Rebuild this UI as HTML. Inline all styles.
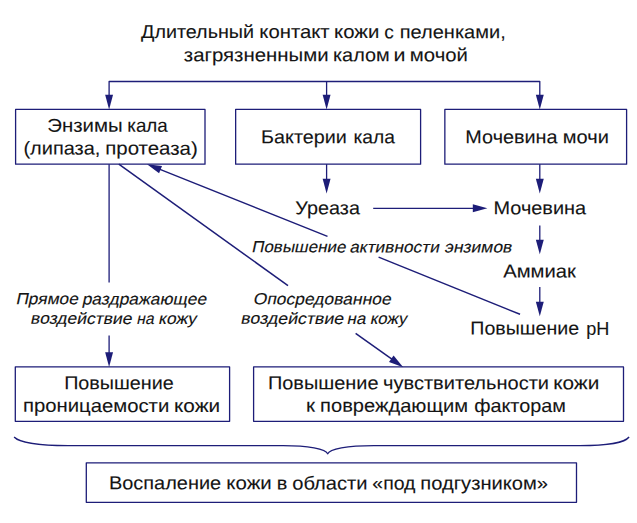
<!DOCTYPE html>
<html lang="ru"><head><meta charset="utf-8"><title>Схема</title>
<style>
html,body{margin:0;padding:0;background:#fff;}
body{width:637px;height:523px;overflow:hidden;}
svg{display:block;}
text{font-family:"Liberation Sans",sans-serif;fill:#141414;stroke:#141414;stroke-width:0.1px;}
.l{stroke:#1d1d78;stroke-width:1.3;fill:#1d1d78;stroke-linejoin:round;}
.d{stroke-width:1.5;}
text.i{stroke:#141414;stroke-width:0.12px;}
.l polygon{stroke:none;}
</style></head><body>
<svg width="637" height="523" viewBox="0 0 637 523">
<rect width="637" height="523" fill="#fff"/>
<g class="l">
<polyline points="109.1,100 109.1,81.5 539.8,81.5 539.8,100" fill="none"/>
<polygon points="109.10,109.40 105.15,94.80 113.05,94.80"/>
<line x1="326.60" y1="81.50" x2="326.60" y2="96.80"/><polygon points="326.60,109.40 322.65,94.80 330.55,94.80"/>
<polygon points="539.80,109.40 535.85,94.80 543.75,94.80"/>
<rect x="15.6" y="109.45" width="189.40" height="54.70" fill="none"/>
<rect x="235.65" y="109.45" width="184.95" height="54.70" fill="none"/>
<rect x="444.85" y="109.45" width="181.75" height="54.70" fill="none"/>
<rect x="15.3" y="366.9" width="214.30" height="54.45" fill="none"/>
<rect x="253.6" y="366.9" width="369.90" height="54.45" fill="none"/>
<rect x="86.3" y="462.8" width="490.20" height="39.50" fill="none"/>
<line x1="326.60" y1="164.15" x2="326.60" y2="180.80"/><polygon points="326.60,193.40 322.65,178.80 330.55,178.80"/>
<line x1="539.80" y1="164.15" x2="539.80" y2="180.80"/><polygon points="539.80,193.40 535.85,178.80 543.75,178.80"/>
<line x1="373.20" y1="208.30" x2="474.80" y2="208.30"/><polygon points="487.40,208.30 472.80,212.25 472.80,204.35"/>
<line x1="539.80" y1="225.50" x2="539.80" y2="241.70"/><polygon points="539.80,254.30 535.85,239.70 543.75,239.70"/>
<line x1="539.80" y1="287.00" x2="539.80" y2="303.70"/><polygon points="539.80,316.30 535.85,301.70 543.75,301.70"/>
<line x1="109.1" y1="164.15" x2="109.1" y2="282.5"/>
<line x1="109.10" y1="335.50" x2="109.10" y2="354.30"/><polygon points="109.10,366.90 105.15,352.30 113.05,352.30"/>
<g class="d">
<line x1="118.8" y1="164.15" x2="288.0" y2="285.65"/>
<line x1="327.50" y1="236.40" x2="158.70" y2="168.88"/><polygon points="147.00,164.20 162.02,165.95 159.09,173.29"/>
<line x1="520.0" y1="314.3" x2="378.6" y2="257.1"/>
<line x1="355.60" y1="333.40" x2="392.93" y2="359.91"/><polygon points="403.20,367.20 389.01,361.97 393.58,355.53"/>
</g>
<path d="M14.1,437 C19,442.5 40,445.6 68,445.6 L283,445.6 C308,445.6 326,449 327.7,453.9 C329.5,449 347,445.6 374,445.6 L580,445.6 C606,445.6 625,442.5 629.1,437" fill="none"/>
</g>

<g>
<text id="t1" transform="matrix(1 0.0005 0.0000 1 0 37.94)" font-size="18.7"><tspan id="t1_0" x="141.02" textLength="113.07" lengthAdjust="spacingAndGlyphs">Длительный</tspan> <tspan id="t1_1" x="259.38" textLength="70.28" lengthAdjust="spacingAndGlyphs">контакт</tspan> <tspan id="t1_2" x="334.08" textLength="45.18" lengthAdjust="spacingAndGlyphs">кожи</tspan> <tspan id="t1_3" x="384.35" textLength="9.56" lengthAdjust="spacingAndGlyphs">с</tspan> <tspan id="t1_4" x="399.68" textLength="106.07" lengthAdjust="spacingAndGlyphs">пеленками,</tspan></text>
<text id="t2" transform="matrix(1 0.0005 0.0000 1 0 61.04)" font-size="18.7"><tspan id="t2_0" x="183.79" textLength="144.82" lengthAdjust="spacingAndGlyphs">загрязненными</tspan> <tspan id="t2_1" x="332.97" textLength="56.75" lengthAdjust="spacingAndGlyphs">калом</tspan> <tspan id="t2_2" x="393.43" textLength="11.99" lengthAdjust="spacingAndGlyphs">и</tspan> <tspan id="t2_3" x="409.85" textLength="58.12" lengthAdjust="spacingAndGlyphs">мочой</tspan></text>
<text id="b1a" transform="matrix(1 0.0005 0.0000 1 0 131.75)" font-size="18.7"><tspan id="b1a_0" x="47.22" textLength="75.37" lengthAdjust="spacingAndGlyphs">Энзимы</tspan> <tspan id="b1a_1" x="127.25" textLength="40.51" lengthAdjust="spacingAndGlyphs">кала</tspan></text>
<text id="b1b" transform="matrix(1 0.0005 0.0000 1 0 154.54)" font-size="18.7"><tspan id="b1b_0" x="23.45" textLength="76.95" lengthAdjust="spacingAndGlyphs">(липаза,</tspan> <tspan id="b1b_1" x="105.24" textLength="92.56" lengthAdjust="spacingAndGlyphs">протеаза)</tspan></text>
<text id="b2" transform="matrix(1 0.0005 0.0000 1 0 143.14)" font-size="18.7"><tspan id="b2_0" x="261.14" textLength="85.76" lengthAdjust="spacingAndGlyphs">Бактерии</tspan> <tspan id="b2_1" x="353.40" textLength="41.51" lengthAdjust="spacingAndGlyphs">кала</tspan></text>
<text id="b3" transform="matrix(1 0.0005 0.0000 1 0 143.03)" font-size="18.7"><tspan id="b3_0" x="465.33" textLength="92.20" lengthAdjust="spacingAndGlyphs">Мочевина</tspan> <tspan id="b3_1" x="562.86" textLength="46.08" lengthAdjust="spacingAndGlyphs">мочи</tspan></text>
<text id="u" transform="matrix(1 0.0005 0.0000 1 0 214.04)" font-size="18.7"><tspan id="u_0" x="295.29" textLength="64.62" lengthAdjust="spacingAndGlyphs">Уреаза</tspan></text>
<text id="m" transform="matrix(1 0.0005 0.0000 1 0 213.93)" font-size="18.7"><tspan id="m_0" x="493.45" textLength="92.67" lengthAdjust="spacingAndGlyphs">Мочевина</tspan></text>
<text id="a" transform="matrix(1 0.0005 0.0000 1 0 277.13)" font-size="18.7"><tspan id="a_0" x="503.23" textLength="72.64" lengthAdjust="spacingAndGlyphs">Аммиак</tspan></text>
<text id="ph" transform="matrix(1 0.0005 0.0000 1 0 334.33)" font-size="18.7"><tspan id="ph_0" x="470.35" textLength="108.71" lengthAdjust="spacingAndGlyphs">Повышение</tspan> <tspan id="ph_1" x="586.14" textLength="23.10" lengthAdjust="spacingAndGlyphs">pH</tspan></text>
<text id="i1" class="i" transform="matrix(1 0.0005 -0.2126 1 0 252.21)" font-size="16.2"><tspan id="i1_0" x="251.21" textLength="94.32" lengthAdjust="spacingAndGlyphs">Повышение</tspan> <tspan id="i1_1" x="349.26" textLength="89.60" lengthAdjust="spacingAndGlyphs">активности</tspan> <tspan id="i1_2" x="444.00" textLength="67.42" lengthAdjust="spacingAndGlyphs">энзимов</tspan></text>
<text id="i2" class="i" transform="matrix(1 0.0005 -0.2126 1 0 304.34)" font-size="16.2"><tspan id="i2_0" x="15.41" textLength="62.44" lengthAdjust="spacingAndGlyphs">Прямое</tspan> <tspan id="i2_1" x="81.63" textLength="124.49" lengthAdjust="spacingAndGlyphs">раздражающее</tspan></text>
<text id="i3" class="i" transform="matrix(1 0.0005 -0.2126 1 0 323.84)" font-size="16.2"><tspan id="i3_0" x="30.12" textLength="101.44" lengthAdjust="spacingAndGlyphs">воздействие</tspan> <tspan id="i3_1" x="136.32" textLength="17.22" lengthAdjust="spacingAndGlyphs">на</tspan> <tspan id="i3_2" x="158.05" textLength="38.11" lengthAdjust="spacingAndGlyphs">кожу</tspan></text>
<text id="i4" class="i" transform="matrix(1 0.0005 -0.2126 1 0 304.24)" font-size="16.2"><tspan id="i4_0" x="252.81" textLength="137.96" lengthAdjust="spacingAndGlyphs">Опосредованное</tspan></text>
<text id="i5" class="i" transform="matrix(1 0.0005 -0.2126 1 0 323.74)" font-size="16.2"><tspan id="i5_0" x="240.35" textLength="102.82" lengthAdjust="spacingAndGlyphs">воздействие</tspan> <tspan id="i5_1" x="346.57" textLength="18.76" lengthAdjust="spacingAndGlyphs">на</tspan> <tspan id="i5_2" x="369.67" textLength="36.73" lengthAdjust="spacingAndGlyphs">кожу</tspan></text>
<text id="b4a" transform="matrix(1 0.0005 0.0000 1 0 389.24)" font-size="18.7"><tspan id="b4a_0" x="64.17" textLength="109.63" lengthAdjust="spacingAndGlyphs">Повышение</tspan></text>
<text id="b4b" transform="matrix(1 0.0005 0.0000 1 0 411.84)" font-size="18.7"><tspan id="b4b_0" x="22.96" textLength="146.28" lengthAdjust="spacingAndGlyphs">проницаемости</tspan> <tspan id="b4b_1" x="174.06" textLength="46.10" lengthAdjust="spacingAndGlyphs">кожи</tspan></text>
<text id="b5a" transform="matrix(1 0.0005 0.0000 1 0 389.08)" font-size="18.7"><tspan id="b5a_0" x="267.91" textLength="110.60" lengthAdjust="spacingAndGlyphs">Повышение</tspan> <tspan id="b5a_1" x="383.08" textLength="165.97" lengthAdjust="spacingAndGlyphs">чувствительности</tspan> <tspan id="b5a_2" x="553.19" textLength="46.14" lengthAdjust="spacingAndGlyphs">кожи</tspan></text>
<text id="b5b" transform="matrix(1 0.0005 0.0000 1 0 411.68)" font-size="18.7"><tspan id="b5b_0" x="305.94" textLength="8.98" lengthAdjust="spacingAndGlyphs">к</tspan> <tspan id="b5b_1" x="320.13" textLength="147.88" lengthAdjust="spacingAndGlyphs">повреждающим</tspan> <tspan id="b5b_2" x="474.17" textLength="91.73" lengthAdjust="spacingAndGlyphs">факторам</tspan></text>
<text id="b6" transform="matrix(1 0.0005 0.0000 1 0 489.24)" font-size="18.7"><tspan id="b6_0" x="108.97" textLength="112.14" lengthAdjust="spacingAndGlyphs">Воспаление</tspan> <tspan id="b6_1" x="226.38" textLength="45.43" lengthAdjust="spacingAndGlyphs">кожи</tspan> <tspan id="b6_2" x="276.70" textLength="10.59" lengthAdjust="spacingAndGlyphs">в</tspan> <tspan id="b6_3" x="292.23" textLength="75.30" lengthAdjust="spacingAndGlyphs">области</tspan> <tspan id="b6_4" x="372.30" textLength="43.17" lengthAdjust="spacingAndGlyphs">«под</tspan> <tspan id="b6_5" x="420.37" textLength="127.66" lengthAdjust="spacingAndGlyphs">подгузником»</tspan></text>
</g>
</svg>
</body></html>
